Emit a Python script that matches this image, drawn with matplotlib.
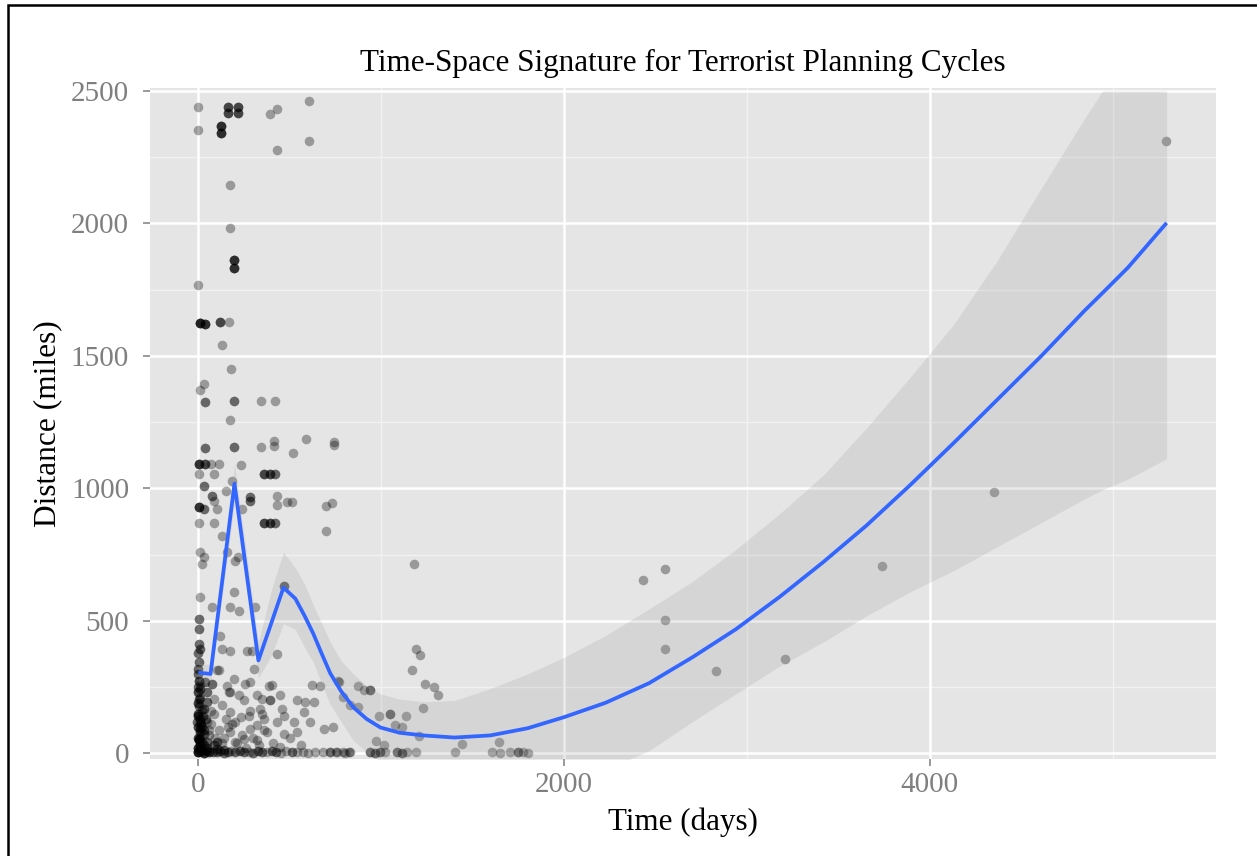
import numpy as np
import matplotlib
matplotlib.use("Agg")
import matplotlib.pyplot as plt
from matplotlib.patches import Rectangle

# ---------------- data ----------------
title = "Time-Space Signature for Terrorist Planning Cycles"
x_label = "Time (days)"
y_label = "Distance (miles)"
x_ticks = [0, 2000, 4000]
y_ticks = [0, 500, 1000, 1500, 2000, 2500]

# observed points (days, miles, number of overlapping observations), by region
days_a = [0, 0, 160, 160, 215, 215, 124, 124, 393, 430, 603, 603, 430, 175, 175, 197, 197, 0]
miles_a = [2441, 2352, 2441, 2418, 2441, 2418, 2368, 2343, 2412, 2433, 2462, 2311, 2277, 2144, 1982, 1862, 1831, 1768]
n_a = [1, 1, 3, 3, 3, 3, 4, 4, 1, 1, 1, 1, 1, 1, 1, 4, 4, 1]

days_b = [7, 38, 116, 166, 129, 179, 29, 11, 38, 197, 343, 417, 175, 38, 197, 343, 415,
          415, 590, 740, 740, 517, 2, 38, 66, 111, 2, 84, 233, 357, 393, 421, 184, 29]
miles_b = [1624, 1620, 1629, 1629, 1541, 1450, 1394, 1372, 1328, 1331, 1331, 1331, 1259, 1153, 1155, 1155, 1180,
           1161, 1187, 1176, 1165, 1134, 1092, 1092, 1092, 1092, 1054, 1054, 1088, 1054, 1054, 1054, 1029, 1011]
n_b = [5, 4, 3, 1, 1, 1, 1, 1, 2, 2, 1, 1, 1, 2, 2, 1, 1,
       1, 1, 1, 1, 1, 4, 3, 1, 1, 1, 1, 1, 3, 3, 2, 1, 2]

days_c = [75, 84, 153, 281, 284, 2, 29, 102, 238, 430, 430, 485, 512, 699, 730, 2, 87, 357,
          393, 421, 699, 129, 11, 29, 20, 157, 202, 215, 466, 11, 75, 193, 175, 220, 311, 2]
miles_c = [973, 954, 992, 966, 954, 929, 923, 923, 923, 973, 937, 947, 947, 935, 945, 869, 869, 869,
           869, 869, 841, 822, 759, 740, 714, 759, 728, 740, 633, 589, 552, 611, 552, 539, 552, 507]
n_c = [2, 1, 1, 2, 2, 4, 2, 1, 1, 1, 1, 1, 1, 1, 1, 1, 1, 3,
       3, 2, 1, 1, 1, 1, 1, 1, 1, 1, 2, 1, 1, 1, 1, 1, 1, 2]

days_d = [2, 5, 8, 2, 0, 120, 129, 102, 111, 175, 266, 293, 430, 302, 2, 38, 75, 11, 48,
          166, 157, 257, 284, 193, 384, 402, 321, 348, 393, 448, 457, 539, 585, 630, 621, 667, 767, 576]
miles_d = [469, 413, 394, 344, 319, 445, 394, 313, 313, 388, 388, 388, 376, 319, 275, 269, 262, 244, 231,
           231, 256, 262, 269, 282, 256, 259, 219, 206, 200, 219, 168, 200, 194, 194, 259, 256, 269, 156]
n_d = [2, 2, 2, 2, 2, 1, 1, 1, 1, 1, 1, 1, 1, 1, 3, 2, 2, 2, 2,
       1, 1, 1, 1, 1, 1, 1, 1, 1, 2, 1, 1, 1, 1, 1, 1, 1, 1, 1]

days_e = [2, 48, 84, 29, 66, 11, 48, 129, 175, 220, 248, 175, 230, 275, 339, 357, 321, 375,
          430, 466, 521, 539, 685, 175, 248, 284, 202, -7, 11, 29, 2, 48, 84, 11, 102, 139]
miles_e = [206, 194, 206, 168, 162, 131, 118, 181, 231, 219, 200, 156, 137, 143, 168, 131, 106, 81,
           118, 74, 118, 81, 93, 81, 56, 93, 43, 118, 93, 74, 56, 43, 31, 31, 18, 12]
n_e = [2, 2, 1, 2, 1, 2, 1, 1, 1, 1, 1, 1, 1, 1, 1, 1, 1, 1,
       1, 1, 1, 1, 1, 1, 1, 1, 1, 2, 3, 2, 3, 2, 2, 3, 2, 2]

days_f = [0, 15, 30, 45, 60, 80, 100, 120, 140, 160, 180, 200, 225, 250, 275, 300, 325,
          350, 375, 400, 425, 450, 480, 510, 540, 570, 600, 640, 680, 720, 760, 800, 821]
miles_f = [4, 8, 3, 10, 5, 7, 4, 9, 3, 6, 8, 4, 10, 5, 7, 3, 9,
           5, 4, 8, 6, 3, 9, 5, 4, 7, 3, 6, 5, 4, 7, 3, 6]
n_f = [6, 4, 4, 3, 3, 2, 2, 2, 2, 2, 1, 2, 2, 2, 1, 2, 2,
       2, 1, 2, 2, 1, 1, 2, 1, 1, 1, 1, 1, 2, 1, 1, 1]

days_g = [1191, 1209, 1168, 1240, 1286, 1308, 1228, 761, 870, 903, 936, 791, 831, 870,
          985, 1045, 1137, 736, 1077, 1113, 1204, 973, 1013, 1441, 1404, 1641, 1177]
miles_g = [395, 370, 313, 262, 250, 221, 172, 273, 253, 238, 240, 212, 181, 175,
           140, 147, 140, 99, 106, 99, 64, 46, 30, 36, 5, 43, 715]
n_g = [1, 1, 1, 1, 1, 1, 1, 1, 1, 1, 2, 1, 1, 1,
       1, 2, 1, 1, 1, 1, 1, 1, 1, 1, 1, 1, 1]

days_h = [750, 790, 830, 940, 967, 995, 1022, 1086, 1113, 1140, 1191, 1605, 1650, 1705, 1750, 1777, 1805]
miles_h = [5, 4, 6, 5, 3, 6, 4, 5, 3, 6, 4, 5, 3, 6, 4, 5, 3]
n_h = [1, 1, 1, 2, 2, 2, 1, 2, 2, 1, 1, 1, 1, 1, 2, 1, 1]

days_i = [2430, 2552, 2552, 2552, 2831, 3208, 3741, 4350, 5290]
miles_i = [655, 696, 505, 395, 310, 357, 709, 985, 2311]
n_i = [1, 1, 1, 1, 1, 1, 1, 1, 1]

days_j = [0, 5, 10, 15, 0, 5, 20, 0, 10, 25, 0, 8, 30,
          0, 12, 45, 60, 90, 130, 160, 200, 240, 280, 320, 350]
miles_j = [20, 50, 80, 110, 150, 180, 100, 230, 260, 140, 300, 60, 30,
           380, 15, 20, 90, 60, 40, 100, 120, 70, 160, 50, 150]
n_j = [4, 4, 3, 3, 3, 2, 2, 3, 1, 2, 2, 2, 2,
       2, 3, 2, 1, 1, 1, 1, 1, 1, 1, 1, 1]

days_k = [0, 0, 0, 0, 0, 10, 10, 10, 20, 20, 30, 40, 55, 70, 85, 100,
          115, 140, 150, 185, 210, 260, 300, 330, 360, 410, 445, 470, 500, 560, 610]
miles_k = [60, 100, 140, 190, 250, 20, 120, 210, 45, 165, 90, 130, 70, 110, 150, 45,
           90, 60, 130, 110, 40, 20, 60, 30, 90, 40, 25, 140, 60, 30, 120]
n_k = [3, 3, 3, 3, 2, 2, 2, 2, 2, 2, 2, 2, 1, 1, 1, 2,
       1, 1, 1, 1, 1, 1, 1, 1, 1, 1, 1, 1, 1, 1, 1]

# smoothed fit with confidence band
fit_days = [0, 66, 197, 328, 400, 465, 530, 580, 628, 675, 721, 780, 847, 920, 995, 1100, 1230, 1400,
            1596, 1800, 2000, 2226, 2464, 2702, 2940, 3179, 3417, 3655, 3893, 4131, 4369, 4607,
            4845, 4945, 5083, 5295]
fit_miles = [305, 300, 1018, 351, 495, 626, 584, 520, 452, 375, 302, 235, 174, 130, 98, 78, 68, 60,
             68, 95, 137, 191, 265, 363, 469, 591, 722, 861, 1013, 1172, 1335, 1498,
             1670, 1738, 1833, 2002]
fit_upper = [340, 335, 1090, 420, 620, 760, 700, 640, 560, 490, 420, 350, 300, 255, 225, 205, 195, 200,
             245, 300, 363, 445, 545, 649, 770, 905, 1050, 1229, 1420, 1620, 1860, 2130,
             2395, 2500, 2500, 2500]
fit_lower = [270, 265, 945, 285, 370, 490, 468, 400, 344, 260, 184, 120, 48, 5, -29, -49, -59, -80,
             -109, -110, -89, -63, 10, 120, 225, 330, 420, 520, 610, 690, 780, 870,
             960, 995, 1035, 1112]

# ---------------- plot ----------------
W, H = 1257, 856
fig = plt.figure(figsize=(W / 100, H / 100), dpi=100)
fig.patch.set_facecolor("white")

L, R, T, B = 150, 1216, 88, 759
ax = fig.add_axes([L / W, 1 - B / H, (R - L) / W, (B - T) / H])
ax.set_facecolor("#E5E5E5")

serif = ["Liberation Serif", "DejaVu Serif"]

ax.set_xlim(-265, 5565)
ax.set_ylim(-21, 2511)

# grid
for v in [1000, 3000, 5000]:
    ax.axvline(v, color="#F2F2F2", lw=1.0, zorder=0.5)
for v in [250, 750, 1250, 1750, 2250]:
    ax.axhline(v, color="#F2F2F2", lw=1.0, zorder=0.5)
for v in x_ticks:
    ax.axvline(v, color="white", lw=1.8, zorder=0.6)
for v in y_ticks:
    ax.axhline(v, color="white", lw=1.8, zorder=0.6)

# points
all_days = (days_a + days_b + days_c + days_d + days_e + days_f + days_g + days_h
            + days_i + days_j + days_k)
all_miles = (miles_a + miles_b + miles_c + miles_d + miles_e + miles_f + miles_g + miles_h
             + miles_i + miles_j + miles_k)
all_n = n_a + n_b + n_c + n_d + n_e + n_f + n_g + n_h + n_i + n_j + n_k
xs = np.repeat(np.array(all_days, float), all_n)
ys = np.repeat(np.array(all_miles, float), all_n)
ax.scatter(xs, ys, s=48, c="black", alpha=0.33, linewidths=0, zorder=2)

# confidence band & fit
ax.fill_between(fit_days, fit_lower, fit_upper, color="#999999", alpha=0.2,
                linewidth=0, zorder=3)
ax.plot(fit_days, fit_miles, color="#3366FF", lw=2.7, zorder=4,
        solid_joinstyle="round", solid_capstyle="butt")

# axes styling
for s in ax.spines.values():
    s.set_visible(False)
ax.set_xticks(x_ticks)
ax.set_yticks(y_ticks)
ax.set_xticklabels([str(t) for t in x_ticks], family=serif, fontsize=21,
                   color="#7F7F7F")
ax.set_yticklabels([str(t) for t in y_ticks], family=serif, fontsize=21,
                   color="#7F7F7F")
ax.tick_params(axis="both", which="major", length=5, width=1.1, color="#7F7F7F",
               direction="out")
ax.tick_params(axis="y", pad=10)
ax.tick_params(axis="x", pad=4)

ax.set_xlabel(x_label, family=serif, fontsize=22.3, color="black", labelpad=7)
ax.set_ylabel(y_label, family=serif, fontsize=22.6, color="black", labelpad=6)
ax.set_title(title, family=serif, fontsize=22.4, color="black", pad=12)

# outer frame
fig.add_artist(Rectangle((8 / W, -0.05), 1.2, 1 - 5 / H + 0.05,
                         transform=fig.transFigure, fill=False,
                         edgecolor="black", lw=1.8, clip_on=False))

fig.savefig("out.png", dpi=100)
